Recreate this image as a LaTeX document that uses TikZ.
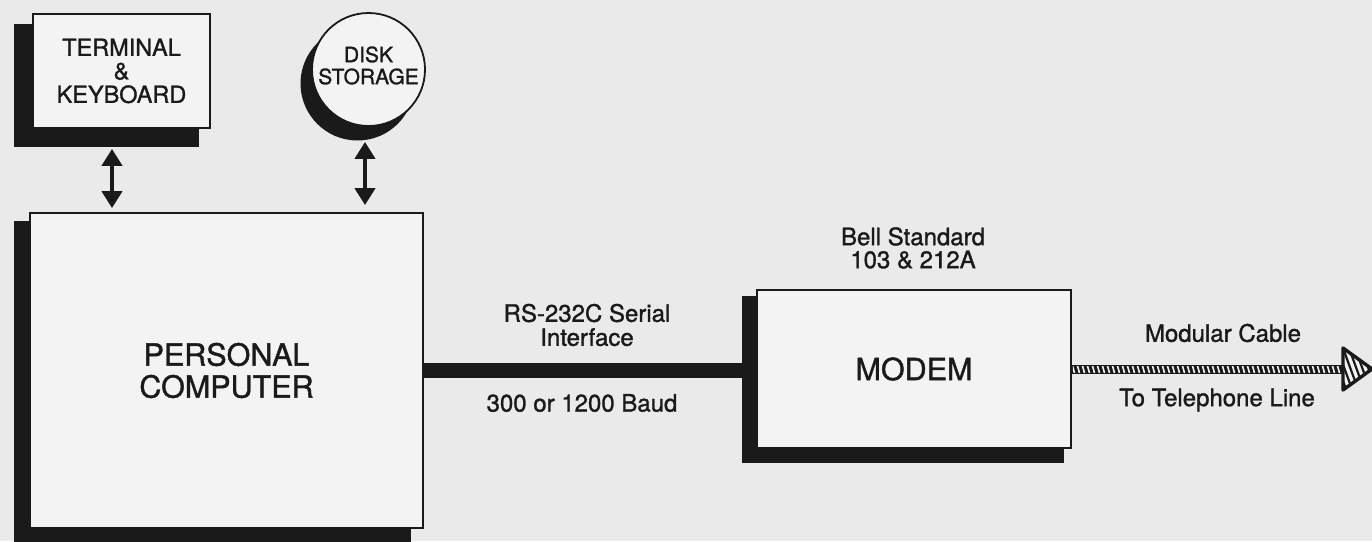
\documentclass[tikz,border=0pt]{standalone}
\usepackage{fontspec}
\setmainfont{TeX Gyre Heros}[FakeBold=1.2]
\usetikzlibrary{arrows.meta,calc}
\definecolor{bg}{HTML}{EAEAEA}
\definecolor{paper}{HTML}{F3F3F3}
\definecolor{ink}{HTML}{1A1A1A}
\pgfdeclarelayer{back}
\pgfdeclarelayer{shadowlayer}
\pgfsetlayers{back,shadowlayer,main}
\begin{document}
\begin{tikzpicture}[x=1pt,y=-1pt,
  box/.style={draw=ink,line width=1.8pt,fill=paper,rectangle,inner sep=0pt,align=center,text=ink},
  diskbox/.style={draw=ink,line width=1.8pt,fill=paper,circle,inner sep=0pt},
  shadowfill/.style={fill=ink},
  dbl/.style={draw=ink,line width=4pt,{Triangle[length=17pt,width=20pt]}-{Triangle[length=17pt,width=20pt]}},
  lbl/.style={font=\fontsize{24}{24}\selectfont,align=center,text=ink},
  big/.style={font=\fontsize{30.5}{32}\selectfont}
]
\begin{pgfonlayer}{back}
\fill[bg] (0,0) rectangle (1372,541);
\end{pgfonlayer}
\useasboundingbox (0,0) rectangle (1372,541);

% boxes
\node[box,minimum width=177pt,minimum height=114pt,font=\fontsize{23.5}{23.5}\selectfont] (term) at (121.5,71) {TERMINAL\\\&\\KEYBOARD};
\node[diskbox,minimum size=113pt] (disk) at (368.5,69.5) {};
\node[align=center,text=ink,font=\fontsize{21}{22}\selectfont] (disktext) at ([yshift=4pt]disk.center) {DISK\\STORAGE};
\node[box,big,minimum width=393pt,minimum height=315pt] (pc) at (226.5,370.5) {PERSONAL\\COMPUTER};
\node[box,big,minimum width=314pt,minimum height=158pt] (modem) at (914,369) {MODEM};
\coordinate (tel) at (1372,369);

% shadows and serial bar
\begin{pgfonlayer}{shadowlayer}
\fill[shadowfill] ($(term.north west)+(-18,11)$) rectangle ($(term.south east)+(-12,18)$);
\fill[shadowfill] ($(disk.center)+(-11,14)$) circle[radius=57pt];
\fill[shadowfill] ($(pc.north west)+(-15,9)$) rectangle ($(pc.south east)+(-13,20)$);
\fill[shadowfill] ($(modem.north west)+(-14,7)$) rectangle ($(modem.south east)+(-8,14)$);
\draw[ink,line width=15pt] (pc.east) -- (pc.east -| modem.west);
\end{pgfonlayer}

% double arrows
\coordinate (ta) at ([xshift=-9.5pt,yshift=-20pt]term.south);
\draw[dbl,shorten >=4pt] (ta) -- (ta |- pc.north);
\coordinate (da) at ([xshift=-3.5pt,yshift=-15pt]disk.south);
\draw[dbl,shorten >=7pt] (da) -- (da |- pc.north);

% modular cable
\coordinate (cb) at ($(tel)+(-29,0)$);
\fill[ink] ($(modem.east)+(0,-4.5)$) rectangle ($(cb)+(0,4.5)$);
\begin{scope}
\clip ($(modem.east)+(1,-3)$) rectangle ($(cb)+(0,3)$);
\foreach \x in {1072,1077,...,1345} \draw[paper,line width=1.6pt] (\x,364) -- (\x+3,375);
\end{scope}
\fill[paper] ($(cb)+(0,-21)$) -- (tel) -- ($(cb)+(0,21)$) -- cycle;
\begin{scope}
\clip ($(cb)+(0,-21)$) -- (tel) -- ($(cb)+(0,21)$) -- cycle;
\foreach \x in {1322,1328,...,1376} \draw[ink,line width=2.2pt] (\x,340) -- (\x+22,400);
\end{scope}
\draw[ink,line width=3.4pt,line join=round] ($(cb)+(0,-21)$) -- (tel) -- ($(cb)+(0,21)$) -- cycle;

% labels
\node[lbl] (rs) at (587,325) {RS-232C Serial\\Interface};
\node[lbl] (baud) at (582,403) {300 or 1200 Baud};
\node[lbl,font=\fontsize{24}{23}\selectfont] (bell) at (913,248) {Bell Standard\\103 \& 212A};
\node[lbl] (mc) at (1223,333) {Modular Cable};
\node[lbl] (tl) at (1217,400) {To Telephone Line};
\end{tikzpicture}
\end{document}
